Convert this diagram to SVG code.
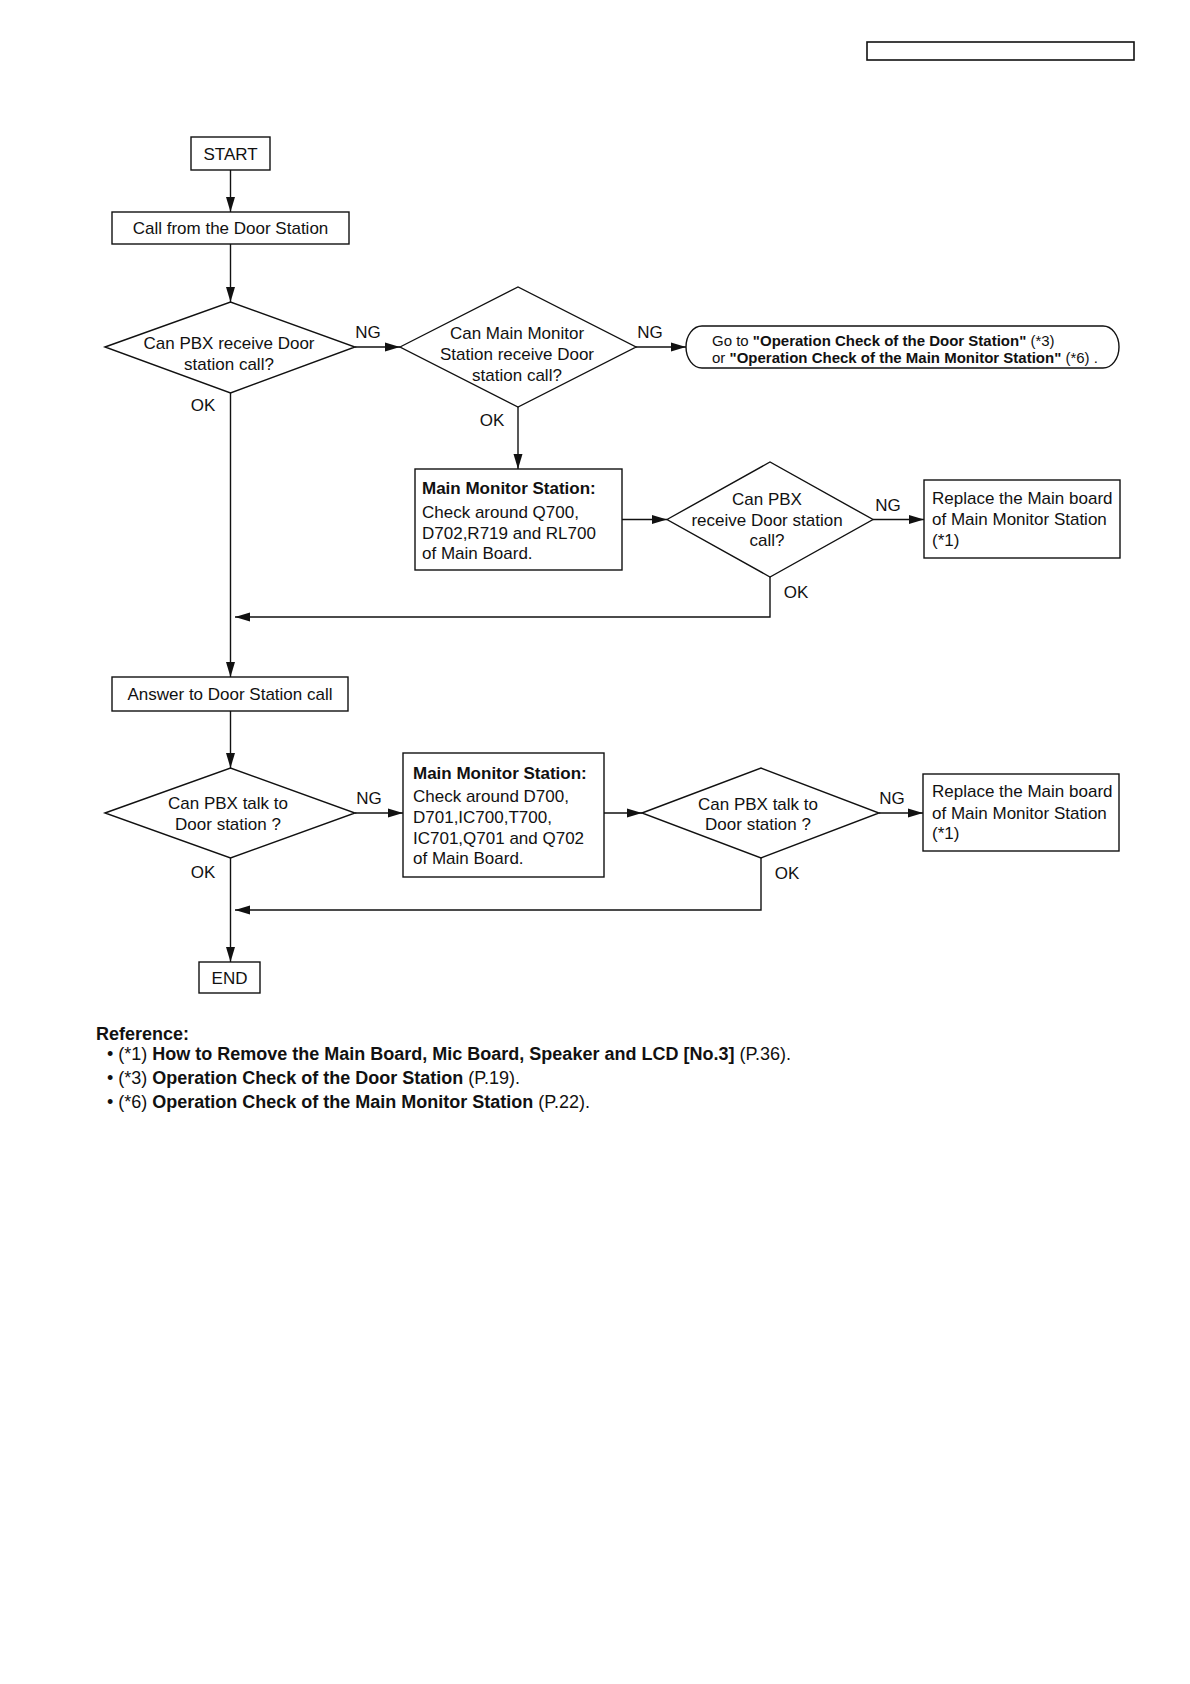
<svg xmlns="http://www.w3.org/2000/svg" width="1190" height="1684" viewBox="0 0 1190 1684">
<defs>
<marker id="ah" markerUnits="userSpaceOnUse" markerWidth="15" markerHeight="10" refX="15" refY="5" orient="auto">
<path d="M0,0.5 L15,5 L0,9.5 z" fill="#111"/>
</marker>
</defs>
<style>
.s{fill:#fff;stroke:#111;stroke-width:1.4}
.c{fill:none;stroke:#111;stroke-width:1.4}
text{font-family:"Liberation Sans",Arial,sans-serif;font-size:17px;fill:#111}
.m{text-anchor:middle}
.b{font-weight:bold}
.sm{font-size:15px}
.r{font-size:18px}
</style>
<rect x="0" y="0" width="1190" height="1684" fill="#fff"/>
<rect x="867" y="42" width="267" height="18" fill="none" stroke="#111" stroke-width="1.6"/>

<g id="connectors">
<line class="c" x1="230.5" y1="170" x2="230.5" y2="212" marker-end="url(#ah)"/>
<line class="c" x1="230.5" y1="244" x2="230.5" y2="302" marker-end="url(#ah)"/>
<line class="c" x1="355" y1="347" x2="400" y2="347" marker-end="url(#ah)"/>
<line class="c" x1="636" y1="347" x2="686" y2="347" marker-end="url(#ah)"/>
<line class="c" x1="518" y1="407" x2="518" y2="469" marker-end="url(#ah)"/>
<line class="c" x1="622" y1="519.5" x2="667" y2="519.5" marker-end="url(#ah)"/>
<line class="c" x1="873" y1="519.5" x2="924" y2="519.5" marker-end="url(#ah)"/>
<polyline class="c" points="770,577 770,617 235,617" marker-end="url(#ah)"/>
<line class="c" x1="230.5" y1="393" x2="230.5" y2="677" marker-end="url(#ah)"/>
<line class="c" x1="230.5" y1="711" x2="230.5" y2="768" marker-end="url(#ah)"/>
<line class="c" x1="355" y1="813" x2="403" y2="813" marker-end="url(#ah)"/>
<line class="c" x1="604" y1="813" x2="642" y2="813" marker-end="url(#ah)"/>
<line class="c" x1="879" y1="813" x2="923" y2="813" marker-end="url(#ah)"/>
<polyline class="c" points="761,858 761,910 235,910" marker-end="url(#ah)"/>
<line class="c" x1="230.5" y1="858" x2="230.5" y2="962" marker-end="url(#ah)"/>
<text class="m" x="368" y="338">NG</text>
<text class="m" x="650" y="338">NG</text>
<text class="m" x="203" y="411">OK</text>
<text class="m" x="492" y="426">OK</text>
<text class="m" x="888" y="511">NG</text>
<text class="m" x="796" y="598">OK</text>
<text class="m" x="369" y="804">NG</text>
<text class="m" x="892" y="804">NG</text>
<text class="m" x="203" y="878">OK</text>
<text class="m" x="787" y="879">OK</text>
</g>

<g id="start">
<rect class="s" x="191" y="137" width="79" height="33"/>
<text class="m" x="230.5" y="159.5">START</text>
</g>

<g id="call">
<rect class="s" x="112" y="212" width="237" height="32"/>
<text class="m" x="230.5" y="234">Call from the Door Station</text>
</g>

<g id="d1">
<polygon class="s" points="105,347 230.5,302 355,347 230.5,393"/>
<text class="m" x="229" y="349">Can PBX receive Door</text>
<text class="m" x="229" y="370">station call?</text>
</g>

<g id="d2">
<polygon class="s" points="400,347 518,287 636,347 518,407"/>
<text class="m" x="517" y="339">Can Main Monitor</text>
<text class="m" x="517" y="360">Station receive Door</text>
<text class="m" x="517" y="381">station call?</text>
</g>

<g id="goto">
<path class="s" d="M702,326 L1103,326 A16,21 0 0 1 1103,368 L702,368 A16,21 0 0 1 702,326 z"/>
<text class="sm" x="712" y="345.5">Go to <tspan class="b">"Operation Check of the Door Station"</tspan> (*3)</text>
<text class="sm" x="712" y="362.5">or <tspan class="b">"Operation Check of the Main Monitor Station"</tspan> (*6) .</text>
</g>

<g id="mm1">
<rect class="s" x="415" y="469" width="207" height="101"/>
<text class="b" x="422" y="494">Main Monitor Station:</text>
<text x="422" y="518">Check around Q700,</text>
<text x="422" y="539">D702,R719 and RL700</text>
<text x="422" y="559">of Main Board.</text>
</g>

<g id="d3">
<polygon class="s" points="667,519.5 770,462 873,519.5 770,577"/>
<text class="m" x="767" y="505">Can PBX</text>
<text class="m" x="767" y="525.5">receive Door station</text>
<text class="m" x="767" y="546">call?</text>
</g>

<g id="replace1">
<rect class="s" x="924" y="480" width="196" height="78"/>
<text x="932" y="504">Replace the Main board</text>
<text x="932" y="525">of Main Monitor Station</text>
<text x="932" y="546">(*1)</text>
</g>

<g id="answer">
<rect class="s" x="112" y="677" width="236" height="34"/>
<text class="m" x="230" y="700">Answer to Door Station call</text>
</g>

<g id="d4">
<polygon class="s" points="105,813 230.5,768 355,813 230.5,858"/>
<text class="m" x="228" y="809">Can PBX talk to</text>
<text class="m" x="228" y="830">Door station ?</text>
</g>

<g id="mm2">
<rect class="s" x="403" y="753" width="201" height="124"/>
<text class="b" x="413" y="779">Main Monitor Station:</text>
<text x="413" y="802">Check around D700,</text>
<text x="413" y="823">D701,IC700,T700,</text>
<text x="413" y="843.5">IC701,Q701 and Q702</text>
<text x="413" y="864">of Main Board.</text>
</g>

<g id="d5">
<polygon class="s" points="642,813 761,768 879,813 761,858"/>
<text class="m" x="758" y="810">Can PBX talk to</text>
<text class="m" x="758" y="830">Door station ?</text>
</g>

<g id="replace2">
<rect class="s" x="923" y="774" width="196" height="77"/>
<text x="932" y="797">Replace the Main board</text>
<text x="932" y="818.5">of Main Monitor Station</text>
<text x="932" y="839">(*1)</text>
</g>

<g id="end">
<rect class="s" x="199" y="962" width="61" height="31"/>
<text class="m" x="229.5" y="983.5">END</text>
</g>

<g id="reference">
<text class="b r" x="96" y="1040">Reference:</text>
<text class="r" x="107" y="1060">• (*1) <tspan class="b">How to Remove the Main Board, Mic Board, Speaker and LCD [No.3]</tspan> (P.36).</text>
<text class="r" x="107" y="1084">• (*3) <tspan class="b">Operation Check of the Door Station</tspan> (P.19).</text>
<text class="r" x="107" y="1108">• (*6) <tspan class="b">Operation Check of the Main Monitor Station</tspan> (P.22).</text>
</g>
</svg>
